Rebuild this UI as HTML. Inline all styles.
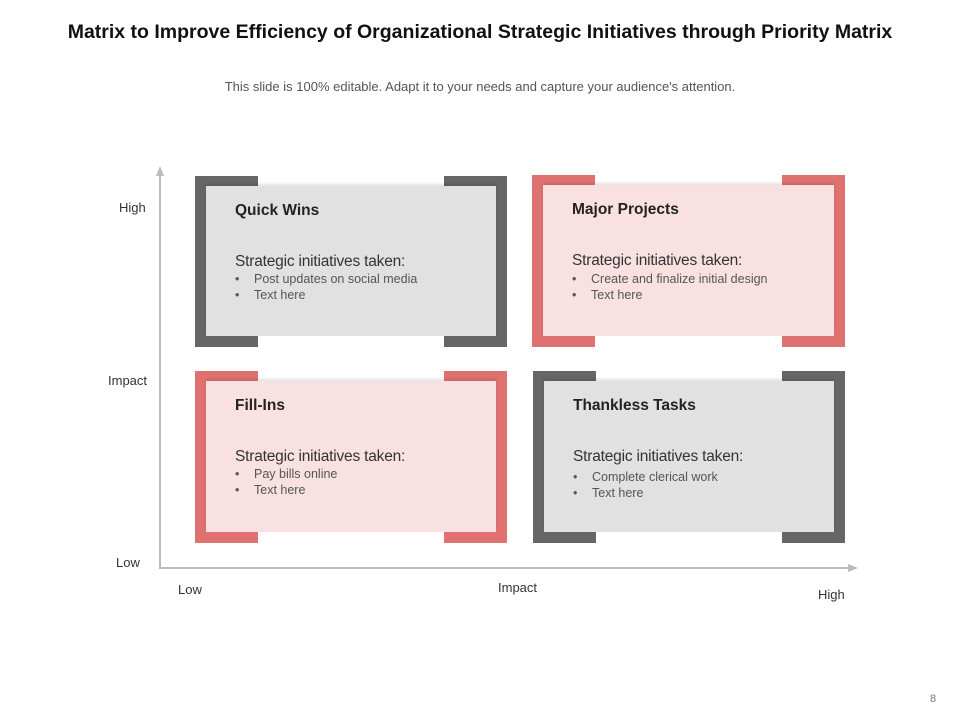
<!DOCTYPE html>
<html><head><meta charset="utf-8"><style>
body{margin:0;width:960px;height:720px;background:#fff;position:relative;font-family:"Liberation Sans",Arial,sans-serif;overflow:hidden}
.a{position:absolute}
.q{position:absolute}
.q .o{position:absolute;left:0;top:0;right:0;bottom:0}
.q .w{position:absolute;background:#fff;left:63px;right:63px;height:11px}
.q .p{position:absolute;left:11px;right:11px;top:10px;bottom:11px;box-shadow:0 -2px 3px rgba(0,0,0,0.12)}
.t{position:absolute;left:29px;top:16px;font-size:15.5px;font-weight:bold;color:#222}
.s{position:absolute;left:29px;top:67px;font-size:15.5px;color:#333;letter-spacing:-0.2px}
.b{position:absolute;left:29px;font-size:12.5px;color:#555}
.b span{display:inline-block;width:19px}
.lab{position:absolute;font-size:13px;color:#333}
</style></head><body>
<div class="a" style="left:0;width:960px;top:21px;text-align:center;font-size:19.5px;font-weight:bold;color:#111">Matrix to Improve Efficiency of Organizational Strategic Initiatives through Priority Matrix</div>
<div class="a" style="left:0;width:960px;top:79px;text-align:center;font-size:13px;color:#555">This slide is 100% editable. Adapt it to your needs and capture your audience's attention.</div>
<svg class="a" style="left:0;top:0" width="960" height="720">
<line x1="160" y1="174" x2="160" y2="568" stroke="#bbb" stroke-width="2"/>
<polygon points="156,176 160,166 164,176" fill="#bbb"/>
<line x1="159" y1="568" x2="850" y2="568" stroke="#bbb" stroke-width="2"/>
<polygon points="848,564 858,568 848,572" fill="#bbb"/>
</svg>
<div class="lab" style="left:119px;top:200px">High</div>
<div class="lab" style="left:108px;top:373px">Impact</div>
<div class="lab" style="left:116px;top:555px">Low</div>
<div class="lab" style="left:178px;top:582px">Low</div>
<div class="lab" style="left:498px;top:580px">Impact</div>
<div class="lab" style="left:818px;top:587px">High</div>

<div class="q" style="left:195px;top:176px;width:312px;height:171px">
<div class="o" style="background:#666"></div><div class="w" style="top:0"></div><div class="w" style="bottom:0"></div>
<div class="p" style="background:#e1e1e1">
<div class="t">Quick Wins</div><div class="s">Strategic initiatives taken:</div>
<div class="b" style="top:86px"><span>•</span>Post updates on social media</div>
<div class="b" style="top:102px"><span>•</span>Text here</div></div></div>

<div class="q" style="left:532px;top:175px;width:313px;height:172px">
<div class="o" style="background:#e07171"></div><div class="w" style="top:0"></div><div class="w" style="bottom:0"></div>
<div class="p" style="background:#f9e1e1">
<div class="t">Major Projects</div><div class="s">Strategic initiatives taken:</div>
<div class="b" style="top:87px"><span>•</span>Create and finalize initial design</div>
<div class="b" style="top:103px"><span>•</span>Text here</div></div></div>

<div class="q" style="left:195px;top:371px;width:312px;height:172px">
<div class="o" style="background:#e07171"></div><div class="w" style="top:0"></div><div class="w" style="bottom:0"></div>
<div class="p" style="background:#f9e1e1">
<div class="t">Fill-Ins</div><div class="s">Strategic initiatives taken:</div>
<div class="b" style="top:86px"><span>•</span>Pay bills online</div>
<div class="b" style="top:102px"><span>•</span>Text here</div></div></div>

<div class="q" style="left:533px;top:371px;width:312px;height:172px">
<div class="o" style="background:#666"></div><div class="w" style="top:0"></div><div class="w" style="bottom:0"></div>
<div class="p" style="background:#e1e1e1">
<div class="t">Thankless Tasks</div><div class="s">Strategic initiatives taken:</div>
<div class="b" style="top:89px"><span>•</span>Complete clerical work</div>
<div class="b" style="top:105px"><span>•</span>Text here</div></div></div>

<div class="a" style="left:930px;top:693px;font-size:11px;color:#777">8</div>
</body></html>
